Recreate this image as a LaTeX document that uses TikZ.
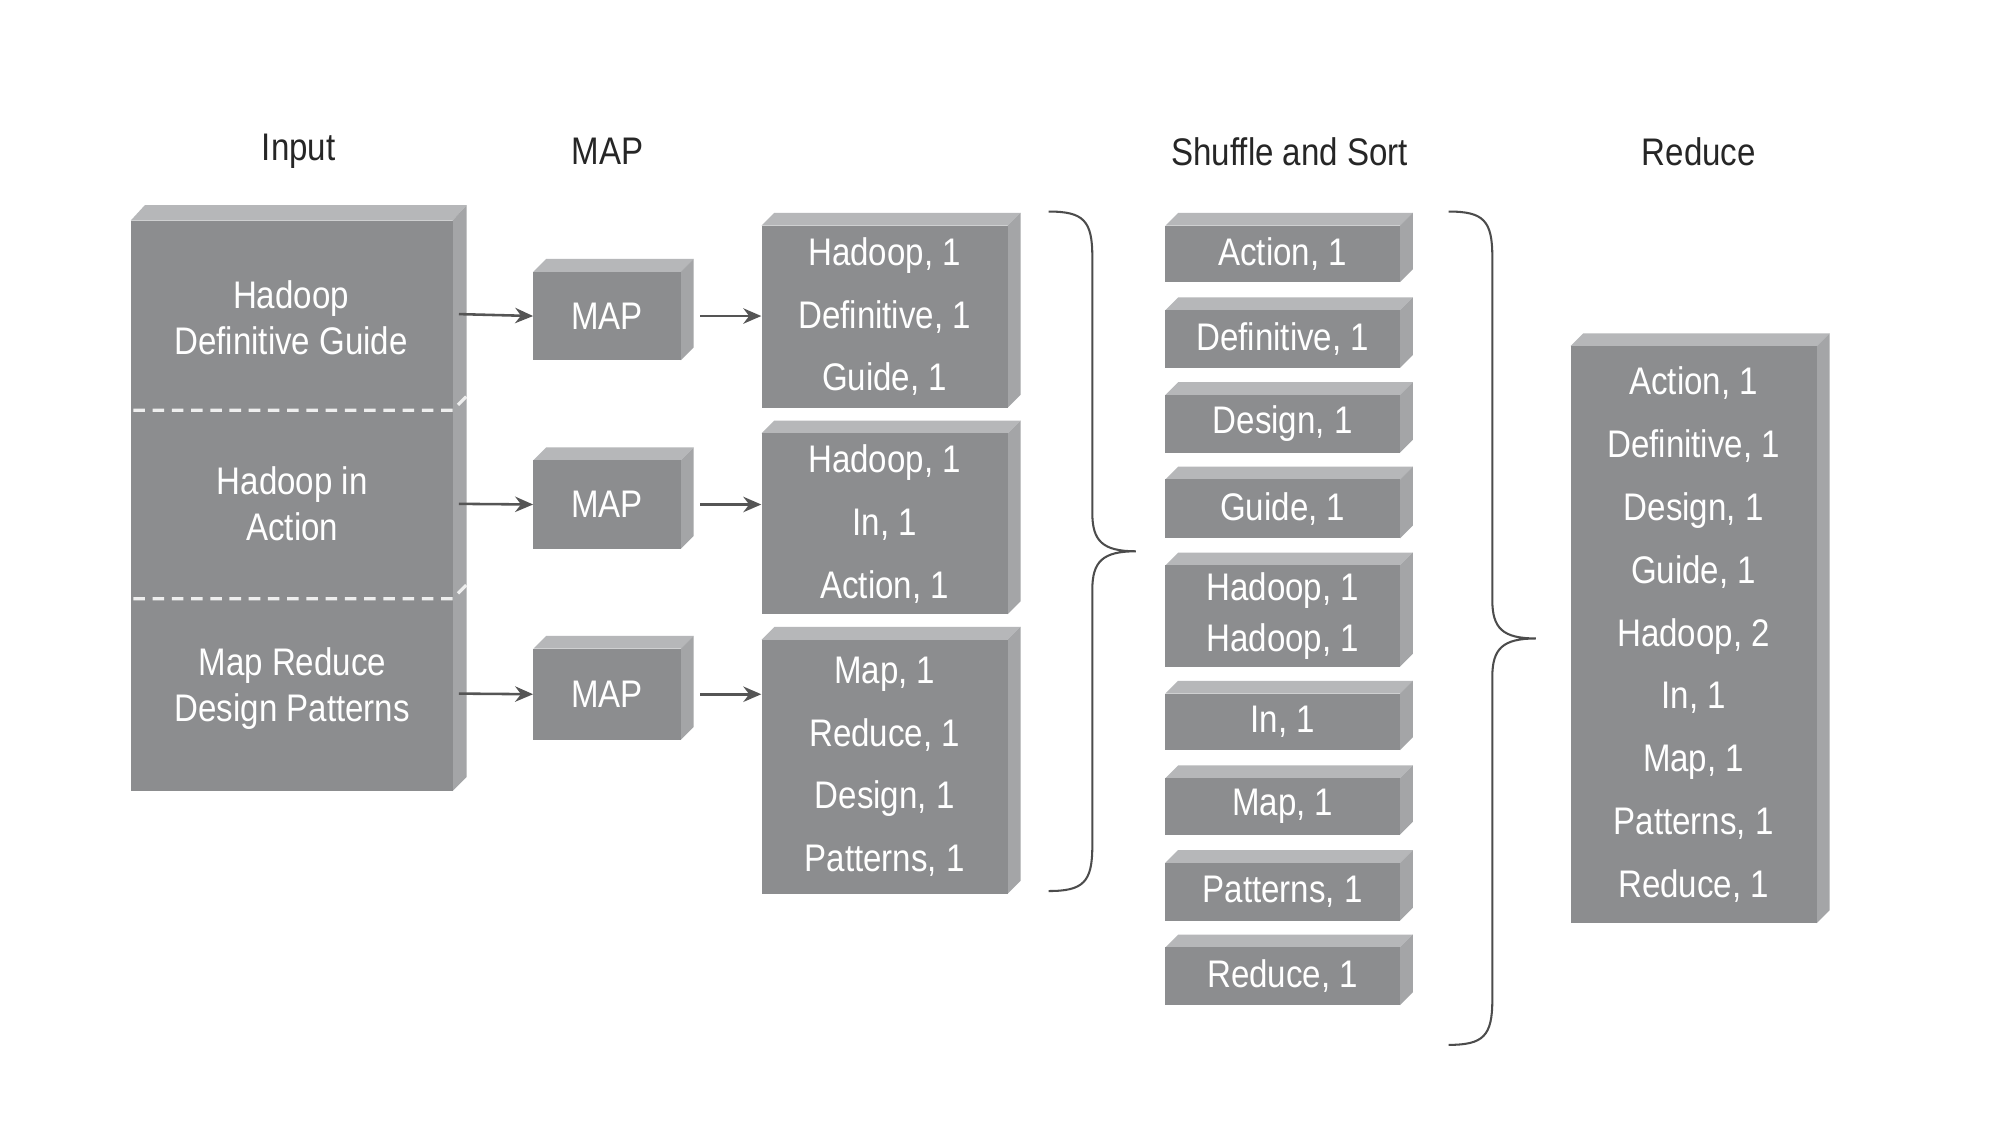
\documentclass[tikz,border=0pt]{standalone}
\usepackage{fontspec}
\setmainfont[FakeStretch=0.86]{Liberation Sans}
\usetikzlibrary{arrows.meta}
\definecolor{front}{HTML}{8C8D8F}
\definecolor{topf}{HTML}{B6B7B9}
\definecolor{sidef}{HTML}{A4A5A7}
\definecolor{arr}{HTML}{555555}
\tikzset{
  box/.style={fill=front, draw=none, inner sep=0pt, text=white, align=center, font=\fontsize{30}{49}\selectfont},
  ttl/.style={font=\fontsize{30}{36}\selectfont, text=black!85},
  conn/.style={draw=arr, line width=2pt, -{Stealth[length=14pt,width=12pt]}},
  brc/.style={draw=black!70, line width=1.6pt},
  dsh/.style={draw=white!85!front, line width=2.5pt, dash pattern=on 9pt off 6pt}
}
% \bx{name}{x1}{y1}{x2}{y2}{text}{style}
\newcommand\bx[7]{%
  \fill[topf] (#2,#3) -- (#2+10,#3-10) -- (#4+10,#3-10) -- (#4,#3) -- cycle;
  \fill[sidef] (#4,#3) -- (#4+10,#3-10) -- (#4+10,#5-10) -- (#4,#5) -- cycle;
  \node[box,minimum width={#4-#2}, minimum height={#5-#3},#7] (#1) at ({(#2+#4)/2},{(#3+#5)/2}) {#6};}
\begin{document}
\begin{tikzpicture}[x=1pt,y=-1pt]
\useasboundingbox (0,0) rectangle (1560,877.5);
\fill[white] (0,0) rectangle (1560,877.5);
% titles
\node[ttl] (t1) at (233,118) {Input};
\node[ttl] (t2) at (474,118) {MAP};
\node[ttl] (t3) at (1006,118) {Shuffle and Sort};
\node[ttl] (t4) at (1325,118) {Reduce};
% input
\fill[topf] (102,172) -- (113,160) -- (364,160) -- (353,172) -- cycle;
\fill[sidef] (353,172) -- (364,160) -- (364,606) -- (353,617) -- cycle;
\fill[front] (102,172) rectangle (353,617);
\node[box,font=\fontsize{30}{36}\selectfont] (i1) at (227,248) {Hadoop\\Definitive Guide};
\node[box,font=\fontsize{30}{36}\selectfont] (i2) at (228,393) {Hadoop in\\Action};
\node[box,font=\fontsize{30}{36}\selectfont] (i3) at (228,537) {Map Reduce\\Design Patterns};
\draw[dsh] (104,320) -- (353,320) -- (364,309);
\draw[dsh] (104,467) -- (353,467) -- (364,456);
\coordinate (a1) at (358,245); \coordinate (a2) at (358,393); \coordinate (a3) at (358,541);
% map
\bx{m1}{416}{212}{531}{281}{MAP}{}
\bx{m2}{416}{359}{531}{428}{MAP}{}
\bx{m3}{416}{506}{531}{577}{MAP}{}
% outputs
\bx{o1}{594}{176}{786}{318}{Hadoop, 1\\Definitive, 1\\Guide, 1}{}
\bx{o2}{594}{338}{786}{479}{Hadoop, 1\\In, 1\\Action, 1}{}
\bx{o3}{594}{499}{786}{697}{Map, 1\\Reduce, 1\\Design, 1\\Patterns, 1}{}
\draw[conn] (a1) -- (m1.west);
\draw[conn] (a2) -- (m2.west);
\draw[conn] (a3) -- (m3.west);
\draw[conn] ([xshift=15pt]m1.east) -- (o1.west |- m1.east);
\draw[conn] ([xshift=15pt]m2.east) -- (o2.west |- m2.east);
\draw[conn] ([xshift=15pt]m3.east) -- (o3.west |- m3.east);
% shuffle
\bx{s1}{909}{176}{1092}{220}{Action, 1}{}
\bx{s2}{909}{242}{1092}{287}{Definitive, 1}{}
\bx{s3}{909}{308}{1092}{353}{Design, 1}{}
\bx{s4}{909}{374}{1092}{420}{Guide, 1}{}
\bx{s5}{909}{441}{1092}{520}{Hadoop, 1\\Hadoop, 1}{font=\fontsize{30}{40}\selectfont}
\bx{s6}{909}{541}{1092}{585}{In, 1}{}
\bx{s7}{909}{607}{1092}{651}{Map, 1}{}
\bx{s8}{909}{673}{1092}{718}{Patterns, 1}{}
\bx{s9}{909}{739}{1092}{784}{Reduce, 1}{}
% reduce
\bx{r1}{1225}{270}{1417}{720}{Action, 1\\Definitive, 1\\Design, 1\\Guide, 1\\Hadoop, 2\\In, 1\\Map, 1\\Patterns, 1\\Reduce, 1}{}
% braces
\draw[brc] (818,165) .. controls (845,165) and (852,172) .. (852,200) -- (852,400)
  .. controls (852,422) and (860,430) .. (886,430)
  .. controls (860,430) and (852,438) .. (852,460) -- (852,660)
  .. controls (852,688) and (845,695) .. (818,695);
\draw[brc] (1130,165) .. controls (1157,165) and (1164,172) .. (1164,200) -- (1164,468)
  .. controls (1164,490) and (1172,498) .. (1198,498)
  .. controls (1172,498) and (1164,506) .. (1164,528) -- (1164,780)
  .. controls (1164,808) and (1157,815) .. (1130,815);
\end{tikzpicture}
\end{document}
